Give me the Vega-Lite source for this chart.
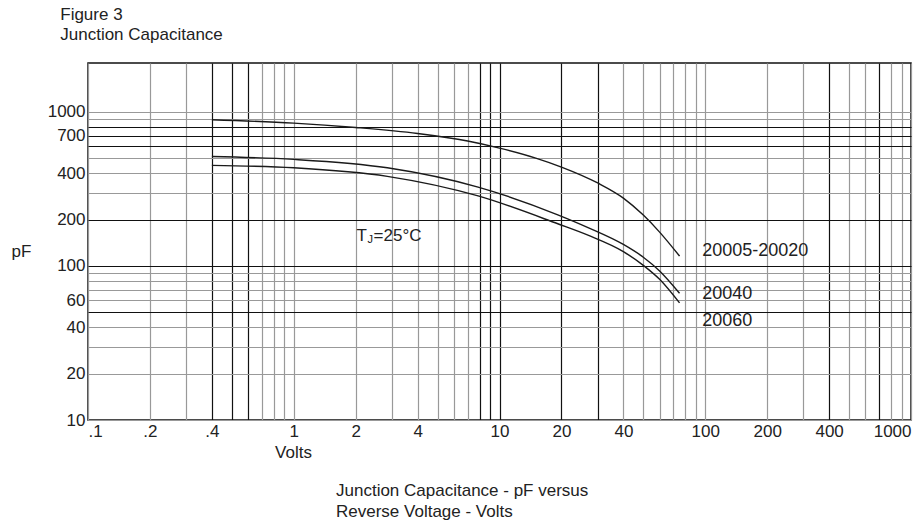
{
  "$schema": "https://vega.github.io/schema/vega-lite/v6.json",
  "background": "white",
  "padding": {"left": 10, "top": 6, "right": 14, "bottom": 0},
  "title": {
    "text": ["Figure 3", "Junction Capacitance"],
    "anchor": "start",
    "frame": "bounds",
    "dx": 50,
    "offset": 18,
    "fontSize": 17,
    "fontWeight": "normal",
    "font": "Liberation Sans",
    "color": "#222",
    "lineHeight": 20
  },
  "datasets": {
    "curves": [
      {"series": "20005-20020", "volts": 0.4, "pf": 890},
      {"series": "20005-20020", "volts": 1, "pf": 847},
      {"series": "20005-20020", "volts": 2, "pf": 793},
      {"series": "20005-20020", "volts": 4, "pf": 725},
      {"series": "20005-20020", "volts": 7, "pf": 648},
      {"series": "20005-20020", "volts": 10, "pf": 583},
      {"series": "20005-20020", "volts": 15, "pf": 502},
      {"series": "20005-20020", "volts": 20, "pf": 439},
      {"series": "20005-20020", "volts": 30, "pf": 346},
      {"series": "20005-20020", "volts": 40, "pf": 276},
      {"series": "20005-20020", "volts": 50, "pf": 214},
      {"series": "20005-20020", "volts": 60, "pf": 166},
      {"series": "20005-20020", "volts": 75, "pf": 116},
      {"series": "20040", "volts": 0.4, "pf": 514},
      {"series": "20040", "volts": 1, "pf": 492},
      {"series": "20040", "volts": 2.85, "pf": 434},
      {"series": "20040", "volts": 7.87, "pf": 325},
      {"series": "20040", "volts": 19.2, "pf": 215},
      {"series": "20040", "volts": 27.1, "pf": 177},
      {"series": "20040", "volts": 40, "pf": 138},
      {"series": "20040", "volts": 50, "pf": 114},
      {"series": "20040", "volts": 60, "pf": 92.8},
      {"series": "20040", "volts": 75, "pf": 66.5},
      {"series": "20060", "volts": 0.4, "pf": 450},
      {"series": "20060", "volts": 1, "pf": 434},
      {"series": "20060", "volts": 2.85, "pf": 382},
      {"series": "20060", "volts": 7.87, "pf": 285},
      {"series": "20060", "volts": 19.2, "pf": 188},
      {"series": "20060", "volts": 27.1, "pf": 158},
      {"series": "20060", "volts": 40, "pf": 124},
      {"series": "20060", "volts": 50, "pf": 101},
      {"series": "20060", "volts": 60, "pf": 82},
      {"series": "20060", "volts": 75, "pf": 57.6}
    ],
    "labels": [
      {"label": "20005-20020", "volts": 100, "pf": 126},
      {"label": "20040", "volts": 100, "pf": 66.2},
      {"label": "20060", "volts": 100, "pf": 43.8}
    ]
  },
  "vconcat": [
    {
      "width": 823,
      "height": 357,
      "title": {
        "text": ["Junction Capacitance - pF versus", "Reverse Voltage - Volts"],
        "orient": "bottom",
        "anchor": "start",
        "align": "left",
        "frame": "bounds",
        "dx": 325,
        "offset": 23,
        "fontSize": 17,
        "fontWeight": "normal",
        "font": "Liberation Sans",
        "color": "#222",
        "lineHeight": 21
      },
      "encoding": {
        "x": {
          "field": "volts",
          "type": "quantitative",
          "scale": {"type": "log", "domain": [0.1, 1000], "nice": false},
          "axis": {
            "title": "Volts",
            "values": [0.1, 0.2, 0.3, 0.4, 0.5, 0.6, 0.7, 0.8, 0.9, 1, 2, 3, 4, 5, 6, 7, 8, 9, 10, 20, 30, 40, 50, 60, 70, 80, 90, 100, 200, 300, 400, 500, 600, 700, 800, 900, 1000],
            "labelExpr": "(datum.value == 0.1 || datum.value == 0.2 || datum.value == 0.4) ? replace(format(datum.value, '.1f'), '0.', '.') : ((datum.value == 1 || datum.value == 2 || datum.value == 4 || datum.value == 10 || datum.value == 20 || datum.value == 40 || datum.value == 100 || datum.value == 200 || datum.value == 400 || datum.value == 1000) ? format(datum.value, 'd') : '')",
            "labelFlush": true,
            "labelOverlap": false,
            "labelPadding": 3,
            "grid": true,
            "gridColor": {"condition": {"test": "datum.value == 0.4 || datum.value == 0.5 || datum.value == 0.6 || datum.value == 8 || datum.value == 9 || datum.value == 10 || datum.value == 20 || datum.value == 30 || datum.value == 400 || datum.value == 700", "value": "#111"}, "value": "#999"},
            "titleX": 205,
            "titleY": 24,
            "titleAlign": "center",
            "titleBaseline": "top"
          }
        },
        "y": {
          "field": "pf",
          "type": "quantitative",
          "scale": {"type": "log", "domain": [10, 2080], "nice": false},
          "axis": {
            "title": "pF",
            "values": [10, 20, 30, 40, 50, 60, 70, 80, 90, 100, 200, 300, 400, 500, 600, 700, 800, 900, 1000],
            "labelExpr": "(datum.value == 10 || datum.value == 20 || datum.value == 40 || datum.value == 60 || datum.value == 100 || datum.value == 200 || datum.value == 400 || datum.value == 700 || datum.value == 1000) ? format(datum.value, 'd') : ''",
            "labelOverlap": false,
            "labelPadding": 3,
            "grid": true,
            "gridColor": {"condition": {"test": "datum.value == 800 || datum.value == 700 || datum.value == 600 || datum.value == 200 || datum.value == 100 || datum.value == 50", "value": "#111"}, "value": "#999"},
            "titleAngle": 0,
            "titleX": -77,
            "titleY": 188,
            "titleAlign": "left",
            "titleBaseline": "middle"
          }
        }
      },
      "layer": [
        {
          "data": {"name": "curves"},
          "mark": {"type": "line", "interpolate": "monotone", "color": "#1a1a1a", "strokeWidth": 1.4},
          "encoding": {"detail": {"field": "series", "type": "nominal"}}
        },
        {
          "data": {"name": "labels"},
          "mark": {"type": "text", "align": "left", "baseline": "middle", "dx": -3, "fontSize": 18, "color": "#222"},
          "encoding": {"text": {"field": "label", "type": "nominal"}}
        },
        {
          "data": {"values": [{"t": "T", "volts": 2.02, "pf": 156}]},
          "mark": {"type": "text", "align": "left", "baseline": "middle", "fontSize": 17, "color": "#222"},
          "encoding": {"text": {"field": "t", "type": "nominal"}}
        },
        {
          "data": {"values": [{"t": "J", "volts": 2.02, "pf": 156}]},
          "mark": {"type": "text", "align": "left", "baseline": "middle", "fontSize": 11, "dx": 11, "dy": 4, "color": "#222"},
          "encoding": {"text": {"field": "t", "type": "nominal"}}
        },
        {
          "data": {"values": [{"t": "=25°C", "volts": 2.02, "pf": 156}]},
          "mark": {"type": "text", "align": "left", "baseline": "middle", "fontSize": 17, "dx": 17, "color": "#222"},
          "encoding": {"text": {"field": "t", "type": "nominal"}}
        }
      ]
    }
  ],
  "config": {
    "font": "Liberation Sans",
    "view": {"stroke": "#111", "strokeWidth": 1.5},
    "axis": {
      "labelFont": "Liberation Sans",
      "labelFontSize": 17,
      "labelColor": "#222",
      "titleFont": "Liberation Sans",
      "titleFontSize": 17,
      "titleFontWeight": "normal",
      "titleColor": "#222",
      "ticks": false,
      "domain": false,
      "gridOpacity": 1,
      "gridWidth": 1.2
    }
  }
}
